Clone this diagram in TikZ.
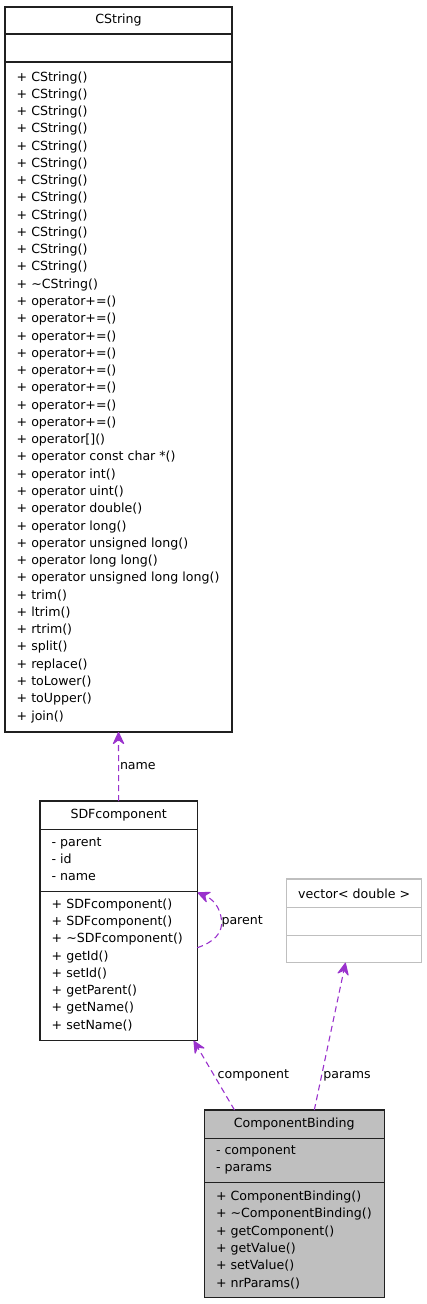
\documentclass[tikz,border=0pt]{standalone}
\usepackage{fontspec}
\setmainfont{DejaVu Sans}
\usetikzlibrary{arrows.meta}
\definecolor{orchid}{HTML}{9A32CD}
\definecolor{cbgray}{HTML}{BFBFBF}
\definecolor{lightframe}{HTML}{BFBFBF}
\definecolor{frame}{HTML}{202020}
\begin{document}
\begin{tikzpicture}[x=1pt,y=-1pt,
  font=\fontsize{12.6}{17.27}\selectfont,
  sec/.style={draw=frame, line width=1.25pt, anchor=north west, inner sep=0pt, outer sep=0pt},
  lightsec/.style={sec, draw=lightframe},
  cbsec/.style={sec, fill=cbgray},
  member/.style={anchor=base west, inner sep=0pt, outer sep=0pt},
  title/.style={inner sep=0pt, outer sep=0pt},
  rel/.style={draw=orchid, line width=1.1pt, dash pattern=on 6pt off 4pt,
    -{Stealth[length=14pt,width=13pt,inset=5pt,round]}},
  lbl/.style={anchor=base west, inner sep=0pt, outer sep=0pt}]
\useasboundingbox (0,0) rectangle (427,1304);

% ---------------- CString ----------------
\node[sec, minimum width=227pt, minimum height=27pt] (cs-t) at (5,7) {};
\node[title] (cs-title) at (cs-t.center) {CString};
\node[sec, minimum width=227pt, minimum height=28pt] (cs-a) at (5,34) {};
\node[sec, minimum width=227pt, minimum height=670pt] (cs-m) at (5,62) {};
\foreach \txt [count=\i from 0] in {%
  CString(),CString(),CString(),CString(),CString(),CString(),
  CString(),CString(),CString(),CString(),CString(),CString(),
  \textasciitilde CString(),
  operator+=(),operator+=(),operator+=(),operator+=(),
  operator+=(),operator+=(),operator+=(),operator+=(),
  operator[](),operator const char *(),operator int(),operator uint(),
  operator double(),operator long(),operator unsigned long(),
  operator long long(),operator unsigned long long(),
  trim(),ltrim(),rtrim(),split(),replace(),toLower(),toUpper(),join()}
  \node[member] (csm\i) at (16.7,81+17.27*\i) {+ \txt};

% ---------------- SDFcomponent ----------------
\node[sec, minimum width=157.3pt, minimum height=28.3pt] (sdf-t) at (40,801) {};
\node[title] (sdf-title) at (sdf-t.center) {SDFcomponent};
\node[sec, minimum width=157.3pt, minimum height=62.4pt] (sdf-a) at (40,829.3) {};
\node[sec, minimum width=157.3pt, minimum height=149pt] (sdf-m) at (40,891.7) {};
\foreach \txt [count=\i from 0] in {parent,id,name}
  \node[member] (sdfa\i) at (51.7,846.3+17.27*\i) {- \txt};
\foreach \txt [count=\i from 0] in {SDFcomponent(),SDFcomponent(),
  \textasciitilde SDFcomponent(),getId(),setId(),getParent(),getName(),setName()}
  \node[member] (sdfm\i) at (51.7,908.3+17.27*\i) {+ \txt};

% ---------------- vector< double > ----------------
\node[lightsec, minimum width=135pt, minimum height=28.7pt] (v-t) at (286.7,879) {};
\node[title] (v-title) at (v-t.center) {vector< double >};
\node[lightsec, minimum width=135pt, minimum height=28pt] (v-a) at (286.7,907.7) {};
\node[lightsec, minimum width=135pt, minimum height=27pt] (v-m) at (286.7,935.7) {};

% ---------------- ComponentBinding ----------------
\node[cbsec, minimum width=180pt, minimum height=28.3pt] (cb-t) at (204.3,1110) {};
\node[title] (cb-title) at (cb-t.center) {ComponentBinding};
\node[cbsec, minimum width=180pt, minimum height=44.4pt] (cb-a) at (204.3,1138.3) {};
\node[cbsec, minimum width=180pt, minimum height=114.6pt] (cb-m) at (204.3,1182.7) {};
\foreach \txt [count=\i from 0] in {component,params}
  \node[member] (cba\i) at (216,1154.7+17.27*\i) {- \txt};
\foreach \txt [count=\i from 0] in {ComponentBinding(),
  \textasciitilde ComponentBinding(),getComponent(),getValue(),setValue(),nrParams()}
  \node[member] (cbm\i) at (216,1200.7+17.27*\i) {+ \txt};

% ---------------- relations ----------------
\draw[rel] (sdf-t.north) -- (cs-m.south);
\node[lbl] (l-name) at (120,769) {name};

\coordinate (loopA) at (197.3,947.7);
\coordinate (loopB) at (197.6,892.6);
\draw[rel] (loopA) .. controls (214,942) and (223,933) .. (221.5,920)
  .. controls (220,907) and (213,899) .. (loopB);
\node[lbl] (l-parent) at (221.5,924) {parent};

\coordinate (cbL) at (234.5,1110);
\coordinate (sdfB) at (193.7,1040.7);
\draw[rel] (cbL) -- (sdfB);
\node[lbl] (l-comp) at (217.7,1078) {component};

\coordinate (cbR) at (314.3,1110);
\coordinate (vB) at (345.5,962.7);
\draw[rel] (cbR) -- (vB);
\node[lbl] (l-params) at (323.3,1078) {params};
\end{tikzpicture}
\end{document}
